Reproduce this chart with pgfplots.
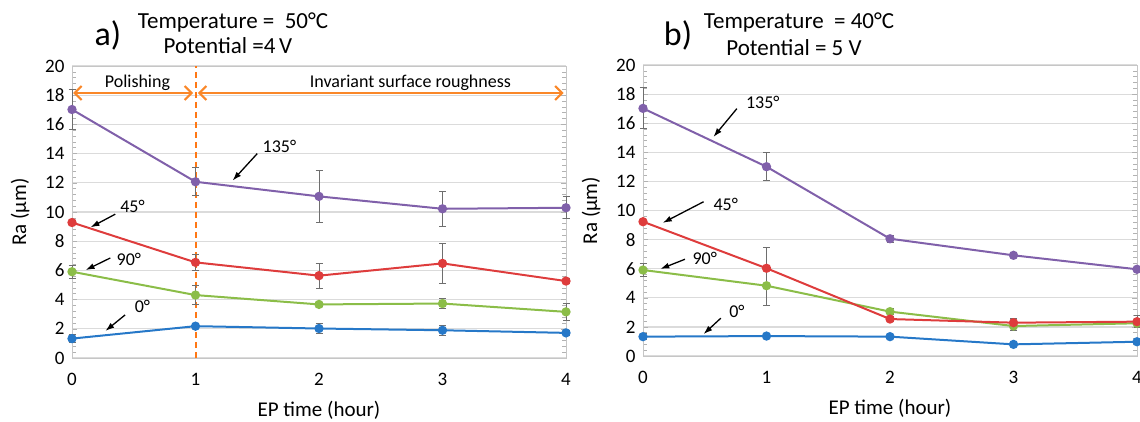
\documentclass[border=0pt]{standalone}
\usepackage{pgfplots}
\pgfplotsset{compat=1.18}
\usepackage{fontspec}
\setmainfont{Carlito}
\usetikzlibrary{arrows.meta}
\definecolor{cpur}{RGB}{128,96,170}
\definecolor{cred}{RGB}{222,60,60}
\definecolor{cgrn}{RGB}{139,189,72}
\definecolor{cblu}{RGB}{38,120,200}
\definecolor{corg}{RGB}{250,135,40}
\definecolor{cdash}{RGB}{255,120,20}
\definecolor{cerr}{RGB}{110,110,110}
\pgfplotsset{
  myax/.style={
    scale only axis, width=494pt, height=292pt,
    xmin=0, xmax=4, ymin=0, ymax=20,
    xtick={0,1,2,3,4}, ytick={0,2,...,20},
    minor y tick num=4,
    clip=false,
    axis line style={gray!45, line width=0.8pt},
    ymajorgrids, major grid style={gray!28, line width=1.2pt},
    tick align=inside,
    xtick style={draw=none},
    ytick style={gray!60, line width=0.6pt},
    major tick length=5pt, minor tick length=4pt,
    /pgf/number format/assume math mode=true,
    tick label style={font=\fontsize{19}{21}\selectfont},
    xticklabel style={yshift=-12pt},
    yticklabel style={xshift=-4pt},
    xlabel={EP time (hour)}, ylabel={Ra (µm)},
    every axis x label/.style={at={(axis description cs:0.5,-0.178)}, anchor=center, font=\fontsize{21}{23}\selectfont},
    every axis y label/.style={at={(axis description cs:-0.105,0.5)}, anchor=center, rotate=90, font=\fontsize{21}{23}\selectfont},
  },
  errs/.style={error bars/y dir=both, error bars/y explicit,
    error bars/error bar style={cerr, line width=1pt},
    error bars/error mark options={cerr, rotate=90, mark size=3.5pt, line width=1pt}},
  ser/.style={errs, color=#1, line width=2pt, mark=*, mark size=3.6pt, mark options={fill=#1, draw=#1}},
}
\begin{document}
\begin{tikzpicture}[x=1pt,y=1pt]
\useasboundingbox (0,0) rectangle (1140,421);
\begin{axis}[myax, at={(72pt,63pt)}, anchor=south west]
\addplot[draw=cdash, line width=2pt, dash pattern=on 6pt off 4pt, mark=none, forget plot] coordinates {(1,0) (1,20)};
\addplot[ser=cblu] coordinates {(0,1.33) +- (0,0.3) (1,2.18) +- (0,0.1) (2,2.02) +- (0,0.35) (3,1.90) +- (0,0.35) (4,1.72) +- (0,0.15)};
\addplot[ser=cgrn] coordinates {(0,5.91) +- (0,0.45) (1,4.31) +- (0,0.65) (2,3.67) +- (0,0.15) (3,3.73) +- (0,0.35) (4,3.16) +- (0,0.6)};
\addplot[ser=cred] coordinates {(0,9.28) +- (0,0.12) (1,6.55) +- (0,0.55) (2,5.64) +- (0,0.85) (3,6.48) +- (0,1.35) (4,5.27) +- (0,0.2)};
\addplot[ser=cpur] coordinates {(0,17.02) +- (0,1.4) (1,12.07) +- (0,0.95) (2,11.07) +- (0,1.8) (3,10.22) +- (0,1.2) (4,10.29) +- (0,0.75)};
\draw[corg, line width=2pt, {Straight Barb[length=7pt,width=14pt]}-{Straight Barb[length=7pt,width=14pt]}] (axis cs:0.01,18.15) -- (axis cs:0.98,18.15);
\draw[corg, line width=2pt, {Straight Barb[length=7pt,width=14pt]}-{Straight Barb[length=7pt,width=14pt]}] (axis cs:1.02,18.15) -- (axis cs:3.98,18.15);
\node[font=\fontsize{18}{20}\selectfont] at (axis cs:0.53,18.85) {Polishing};
\node[font=\fontsize{18}{20}\selectfont] at (axis cs:2.74,18.85) {Invariant surface roughness};
\begin{scope}[font=\fontsize{18}{20}\selectfont]
\draw[black, line width=1.3pt, -{Latex[length=9pt,width=6pt]}] (axis cs:1.50,14.0) -- (axis cs:1.30,12.15);
\node at (axis cs:1.68,14.5) {135°};
\draw[black, line width=1.3pt, -{Latex[length=9pt,width=6pt]}] (axis cs:0.35,9.85) -- (axis cs:0.15,8.95);
\node at (axis cs:0.49,10.4) {45°};
\draw[black, line width=1.3pt, -{Latex[length=9pt,width=6pt]}] (axis cs:0.31,6.85) -- (axis cs:0.11,6.02);
\node at (axis cs:0.46,6.75) {90°};
\draw[black, line width=1.3pt, -{Latex[length=9pt,width=6pt]}] (axis cs:0.43,2.95) -- (axis cs:0.27,1.85);
\node at (axis cs:0.57,3.55) {0°};
\end{scope}
\end{axis}
\node[font=\fontsize{34}{36}\selectfont] at (108,386) {a)};
\node[font=\fontsize{23}{25}\selectfont] at (233,399) {Temperature = \ 50°C};
\node[font=\fontsize{23}{25}\selectfont] at (228,375) {Potential =4\,V};
\begin{axis}[myax, at={(643pt,65pt)}, anchor=south west, height=291pt]
\addplot[ser=cblu] coordinates {(0,1.33) +- (0,0.2) (1,1.37) +- (0,0.05) (2,1.33) +- (0,0.1) (3,0.80) +- (0,0.05) (4,0.98) +- (0,0.05)};
\addplot[ser=cgrn] coordinates {(0,5.91) +- (0,0.45) (1,4.83) +- (0,1.35) (2,3.05) +- (0,0.2) (3,2.06) +- (0,0.3) (4,2.25) +- (0,0.3)};
\addplot[ser=cred] coordinates {(0,9.23) +- (0,0.1) (1,6.03) +- (0,1.4) (2,2.54) +- (0,0.15) (3,2.29) +- (0,0.3) (4,2.36) +- (0,0.4)};
\addplot[ser=cpur] coordinates {(0,17.02) +- (0,1.4) (1,13.01) +- (0,0.95) (2,8.06) +- (0,0.25) (3,6.92) +- (0,0.1) (4,5.96) +- (0,0.1)};
\begin{scope}[font=\fontsize{18}{20}\selectfont]
\draw[black, line width=1.3pt, -{Latex[length=9pt,width=6pt]}] (axis cs:0.76,17.0) -- (axis cs:0.57,15.05);
\node at (axis cs:0.97,17.45) {135°};
\draw[black, line width=1.3pt, -{Latex[length=9pt,width=6pt]}] (axis cs:0.49,10.6) -- (axis cs:0.16,9.15);
\node at (axis cs:0.67,10.45) {45°};
\draw[black, line width=1.3pt, -{Latex[length=9pt,width=6pt]}] (axis cs:0.34,6.65) -- (axis cs:0.14,5.98);
\node at (axis cs:0.50,6.7) {90°};
\draw[black, line width=1.3pt, -{Latex[length=9pt,width=6pt]}] (axis cs:0.63,2.6) -- (axis cs:0.49,1.5);
\node at (axis cs:0.76,3.05) {0°};
\end{scope}
\end{axis}
\node[font=\fontsize{34}{36}\selectfont] at (678,386) {b)};
\node[font=\fontsize{23}{25}\selectfont] at (799,399) {Temperature \ = 40°C};
\node[font=\fontsize{23}{25}\selectfont] at (794,373) {Potential = 5 V};
\end{tikzpicture}
\end{document}
